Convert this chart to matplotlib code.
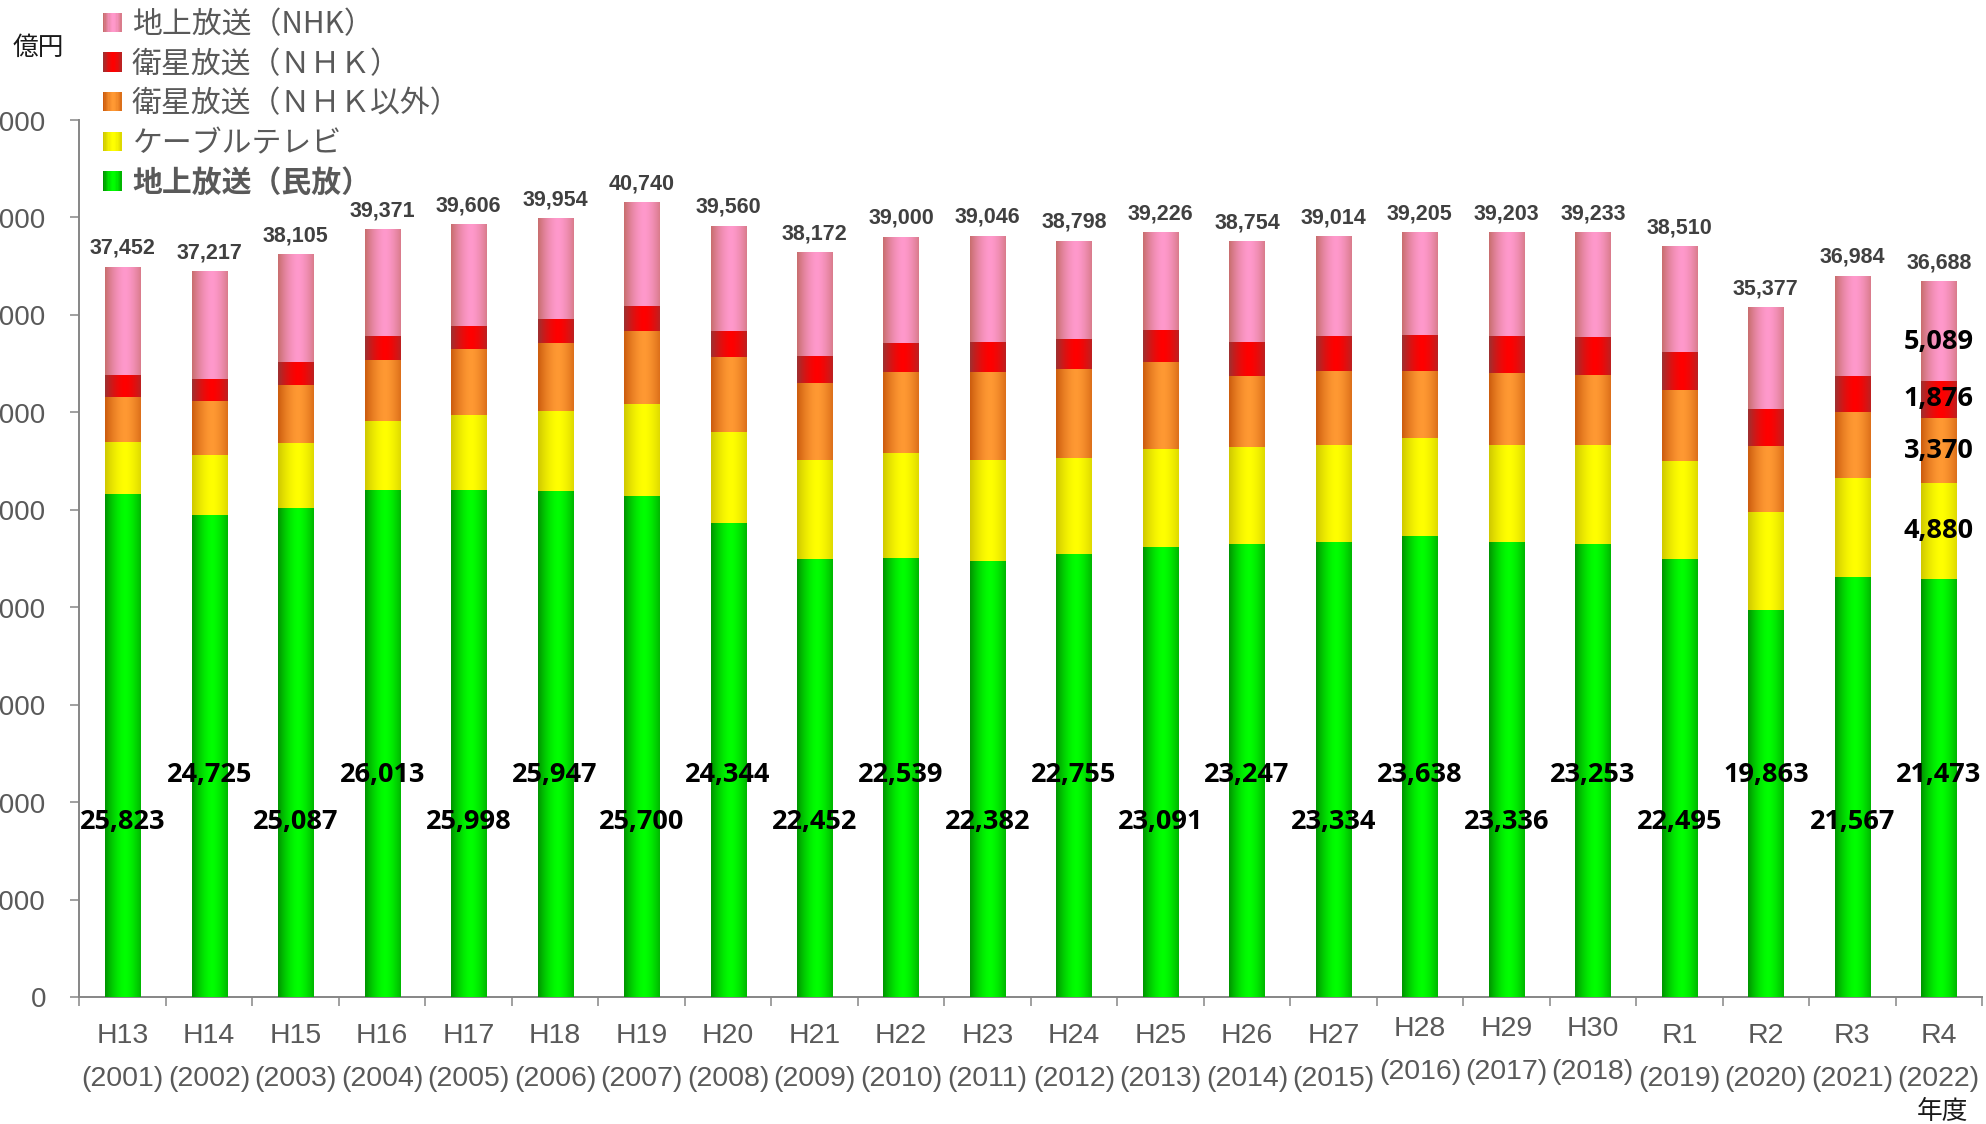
import numpy as np
import matplotlib
matplotlib.use('Agg')
import matplotlib.pyplot as plt
import matplotlib.colors as mcolors
from matplotlib import font_manager
from matplotlib.patches import Rectangle
from matplotlib.legend_handler import HandlerBase

# data (億円)
era_labels = ['H13', 'H14', 'H15', 'H16', 'H17', 'H18', 'H19', 'H20', 'H21', 'H22', 'H23',
              'H24', 'H25', 'H26', 'H27', 'H28', 'H29', 'H30', 'R1', 'R2', 'R3', 'R4']
year_labels = ['(2001)', '(2002)', '(2003)', '(2004)', '(2005)', '(2006)', '(2007)', '(2008)',
               '(2009)', '(2010)', '(2011)', '(2012)', '(2013)', '(2014)', '(2015)', '(2016)',
               '(2017)', '(2018)', '(2019)', '(2020)', '(2021)', '(2022)']
totals = [37452, 37217, 38105, 39371, 39606, 39954, 40740, 39560, 38172, 39000, 39046,
          38798, 39226, 38754, 39014, 39205, 39203, 39233, 38510, 35377, 36984, 36688]
terrestrial_private = [25823, 24725, 25087, 26013, 25998, 25947, 25700, 24344, 22452, 22539, 22382,
                       22755, 23091, 23247, 23334, 23638, 23336, 23253, 22495, 19863, 21567, 21473]
cable_tv = [2668, 3079, 3335, 3541, 3848, 4105, 4721, 4669, 5080, 5388, 5183,
            4926, 5029, 4977, 4977, 5029, 4977, 5080, 5029, 5029, 5041, 4880]
satellite_other = [2309, 2771, 2976, 3130, 3387, 3489, 3746, 3848, 3951, 4156, 4515,
                   4567, 4464, 3643, 3797, 3438, 3694, 3592, 3643, 3387, 3391, 3370]
satellite_nhk = [1129, 1129, 1180, 1232, 1180, 1232, 1283, 1334, 1385, 1488, 1539,
                 1539, 1642, 1745, 1796, 1847, 1899, 1950, 1950, 1899, 1888, 1876]
terrestrial_nhk = [5523, 5513, 5527, 5455, 5193, 5181, 5290, 5365, 5304, 5429, 5427,
                   5011, 5000, 5142, 5110, 5253, 5297, 5358, 5393, 5199, 5097, 5089]

series_names = ['地上放送（民放）', 'ケーブルテレビ', '衛星放送（ＮＨＫ以外）',
                '衛星放送（ＮＨＫ）', '地上放送（NHK）']
series_values = [terrestrial_private, cable_tv, satellite_other, satellite_nhk, terrestrial_nhk]
# (edge colour, centre colour) for the cylinder-like shading
series_shades = [('#009400', '#00ff00'), ('#cfc800', '#ffff00'), ('#cc5c0e', '#ff9933'),
                 ('#9e3030', '#ff0000'), ('#c86e6e', '#ff99cc')]

available = {f.name for f in font_manager.fontManager.ttflist}
if 'Liberation Sans Narrow' in available:
    narrow_font, narrow_size = 'Liberation Sans Narrow', 25
else:
    narrow_font, narrow_size = 'Liberation Sans', 20.5
cjk = 'Noto Sans CJK JP'
plt.rcParams['font.family'] = ['Liberation Sans', cjk]

GRAY = '#595959'
AXIS = '#868686'


def shade(edge, center, n=64):
    t = np.linspace(0, 1, n)
    w = np.clip(1 - (np.abs(t - 0.56) / 0.56) ** 1.6, 0, 1)
    e = np.array(mcolors.to_rgb(edge))
    c = np.array(mcolors.to_rgb(center))
    return e + (c - e) * w[:, None]


class GradientHandler(HandlerBase):
    def __init__(self, colors):
        super().__init__()
        self.colors = colors

    def create_artists(self, legend, orig_handle, xdescent, ydescent, width, height, fontsize, trans):
        n = len(self.colors)
        arts = []
        for k, c in enumerate(self.colors):
            arts.append(Rectangle((-xdescent + width * k / n, -ydescent), width / n * 1.05, height,
                                  facecolor=c, edgecolor='none', transform=trans))
        return arts


fig = plt.figure(figsize=(19.86, 11.24), dpi=100)
ax = fig.add_axes([0.040, 0.113, 0.958, 0.7802])

x = np.arange(len(era_labels))
bottom = np.zeros(len(x))
handles = []
handler_map = {}
for name, vals, (edge, center) in zip(series_names, series_values, series_shades):
    bars = ax.bar(x, vals, 0.405, bottom=bottom, color=center, linewidth=0, zorder=2)
    grad = shade(edge, center)
    for b in bars:
        x0, y0 = b.get_x(), b.get_y()
        ax.imshow(grad[None, :, :], extent=[x0, x0 + b.get_width(), y0, y0 + b.get_height()],
                  aspect='auto', interpolation='bilinear', zorder=3)
    bottom += np.array(vals)
    h = Rectangle((0, 0), 1, 1)
    handles.append(h)
    handler_map[h] = GradientHandler([mcolors.to_hex(c) for c in shade(edge, center, 14)])

# totals above bars
for i, t in enumerate(totals):
    ax.annotate(f'{t:,}', xy=(i, bottom[i]), xytext=(0, 6), textcoords='offset points',
                ha='center', va='bottom', fontsize=15.5, fontweight='bold',
                color='#404040', family='Liberation Sans', zorder=5)

# terrestrial private values, staggered
for i, v in enumerate(terrestrial_private):
    ypos = 9000 if i % 2 == 0 else 11400
    ax.text(i, ypos, f'{v:,}', ha='center', va='center', fontsize=19.5, fontweight='bold',
            color='black', family='Open Sans', zorder=5)

# segment values for the latest year
last = len(x) - 1
base = terrestrial_private[last]
for k, vals in enumerate(series_values[1:]):
    v = vals[last]
    frac = 0.4 if k == len(series_values) - 2 else 0.5
    ax.text(last, base + v * frac, f'{v:,}', ha='center', va='center', fontsize=19.5,
            fontweight='bold', color='black', family='Open Sans', zorder=5)
    base += v

ax.set_xlim(-0.5, len(x) - 0.5)
ax.set_ylim(0, 45000)
ax.set_yticks(np.arange(0, 45001, 5000))
ax.set_yticklabels([f'{v:,}' for v in range(0, 45001, 5000)])
ax.tick_params(axis='y', direction='out', length=6.5, width=1.1, color=AXIS, pad=17.6,
               labelsize=20, labelcolor=GRAY)
ax.set_xticks(np.arange(-0.5, len(x), 1))
ax.set_xticklabels([])
ax.tick_params(axis='x', direction='out', length=6.5, width=1.1, color=AXIS)
for s in ['top', 'right']:
    ax.spines[s].set_visible(False)
for s in ['left', 'bottom']:
    ax.spines[s].set_color(AXIS)
    ax.spines[s].set_linewidth(1.4)

# two-line category labels
for i, (era, yr) in enumerate(zip(era_labels, year_labels)):
    lift = 5 if era in ('H28', 'H29', 'H30') else 0
    ax.annotate(era, xy=(i, 0), xycoords=('data', 'axes fraction'), xytext=(0, -28 + lift),
                textcoords='offset points', ha='center', va='center', fontsize=narrow_size,
                color=GRAY, family=narrow_font, annotation_clip=False)
    ax.annotate(yr, xy=(i, 0), xycoords=('data', 'axes fraction'), xytext=(0, -59 + lift),
                textcoords='offset points', ha='center', va='center', fontsize=narrow_size,
                color=GRAY, family=narrow_font, annotation_clip=False)

fig.text(13 / 1986, 1 - 48 / 1124, '億円', ha='left', va='center', fontsize=18.5,
         color='#1a1a1a', family=[cjk])
fig.text(1968 / 1986, 1 - 1112 / 1124, '年度', ha='right', va='center', fontsize=18.5,
         color='#1a1a1a', family=[cjk])

leg = fig.legend(handles[::-1], series_names[::-1], handler_map=handler_map,
                 loc='upper left', bbox_to_anchor=(103 / 1986, 1 - 9 / 1124),
                 frameon=False, borderpad=0, borderaxespad=0,
                 handlelength=0.62, handleheight=0.62, handletextpad=0.35,
                 labelspacing=0.29, prop={'family': cjk, 'size': 21.5})
for t in leg.get_texts():
    t.set_color(GRAY)
leg.get_texts()[-1].set_fontweight('bold')

fig.savefig('out.png', dpi=100)
plt.close(fig)
